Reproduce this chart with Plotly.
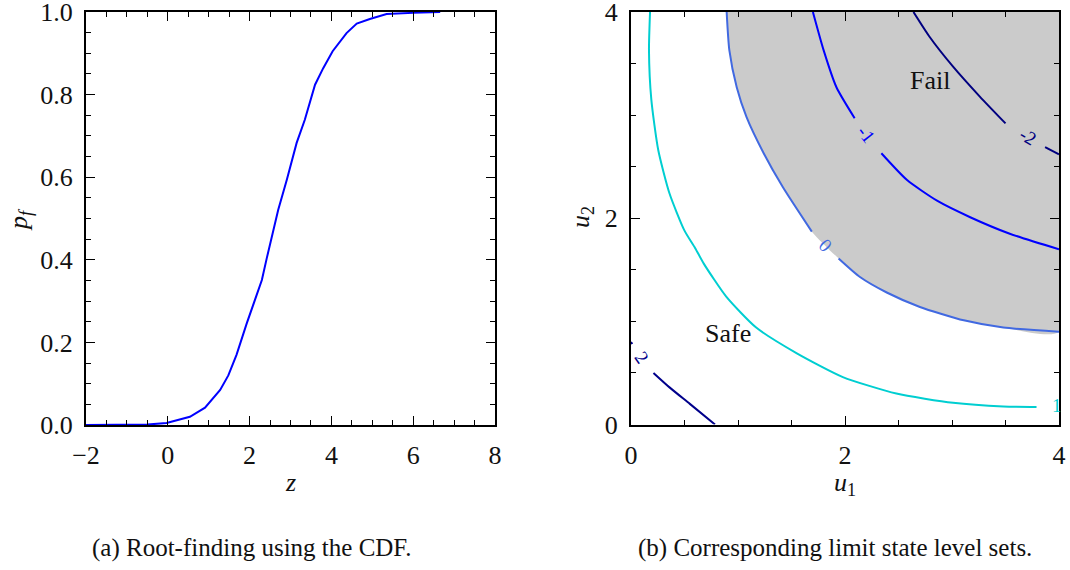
import plotly.graph_objects as go

# ---- Left panel: CDF of the limit state ----
cdf_z = [-2.0, -1.0, -0.5, -0.03, 0.54, 0.91, 1.28, 1.48, 1.68, 1.93, 2.13, 2.30,
         2.42, 2.70, 2.91, 3.15, 3.35, 3.60, 3.80, 4.03, 4.37, 4.62, 4.94, 5.35,
         6.0, 6.66]
cdf_p = [0.0, 0.0, 0.001, 0.005, 0.02, 0.042, 0.085, 0.12, 0.17, 0.246, 0.303, 0.351,
         0.404, 0.521, 0.594, 0.683, 0.739, 0.824, 0.864, 0.905, 0.949, 0.972, 0.983,
         0.995, 0.998, 1.0]

# ---- Right panel: level sets (None = gap for inline label) ----
g2_u1 = [0.0, 0.012, None, 0.21, 0.36, 0.55, 0.785]
g2_u2 = [0.80, 0.78, None, 0.50, 0.36, 0.20, 0.0]

g1_u1 = [0.178, 0.168, 0.19, 0.255, 0.36, 0.50, 0.60, 0.68, 0.89, 1.17, 1.55, 1.98,
         2.48, 3.01, 3.48, 3.79]
g1_u2 = [4.0, 3.63, 3.15, 2.66, 2.24, 1.88, 1.71, 1.56, 1.24, 0.94, 0.69, 0.46,
         0.30, 0.21, 0.175, 0.17]

g0_u1 = [0.894, 0.919, 0.988, 1.08, 1.24, 1.42, 1.69, None,
         1.94, 2.14, 2.39, 2.70, 3.11, 3.48, 4.0]
g0_u2 = [4.0, 3.63, 3.27, 2.98, 2.63, 2.30, 1.87, None,
         1.61, 1.43, 1.28, 1.14, 1.01, 0.94, 0.90]

gm1_u1 = [1.70, 1.80, 1.92, 2.09, None, 2.34, 2.58, 2.86, 3.17, 3.54, 4.0]
gm1_u2 = [4.0, 3.63, 3.27, 2.97, None, 2.63, 2.37, 2.17, 2.01, 1.85, 1.70]

gm2_u1 = [2.64, 2.79, 3.01, 3.26, 3.50, None, 3.87, 4.0]
gm2_u2 = [4.0, 3.76, 3.47, 3.18, 2.92, None, 2.69, 2.62]

level_labels = ["2", "1", "0", "-1", "-2"]
label_u1 = [0.10, 3.98, 1.82, 2.20, 3.71]
label_u2 = [0.65, 0.18, 1.74, 2.81, 2.79]
label_angle = [55, 0, 45, 52, 31]

region_names = ["Fail", "Safe"]
region_u1 = [2.79, 0.91]
region_u2 = [3.34, 0.88]

captions = ["(a) Root-finding using the CDF.", "(b) Corresponding limit state level sets."]

C2 = "#00008b"
C1 = "#00ced1"
C0 = "#4169e1"
CM1 = "#0000ff"
CM2 = "#000080"
level_colors = [C2, C1, C0, CM1, CM2]

FONT = "Liberation Serif"
TXT = "#111111"
W, H = 1070, 570

fig = go.Figure()

fig.add_trace(go.Scatter(x=cdf_z, y=cdf_p, mode="lines",
                         line=dict(color="#0000ff", width=2),
                         xaxis="x", yaxis="y", showlegend=False))

# Fail region fill: region beyond the g=0 level set, up to the top-right corner
fill_u1 = [v for v in g0_u1 if v is not None] + [4.0]
fill_u2 = [v for v in g0_u2 if v is not None] + [4.0]
fig.add_trace(go.Scatter(x=fill_u1, y=fill_u2, mode="lines", fill="toself",
                         fillcolor="#cbcbcb", line=dict(width=0, shape="spline", smoothing=0.6),
                         xaxis="x2", yaxis="y2", showlegend=False))

for xs, ys, col in [(g2_u1, g2_u2, C2), (g1_u1, g1_u2, C1), (g0_u1, g0_u2, C0),
                    (gm1_u1, gm1_u2, CM1), (gm2_u1, gm2_u2, CM2)]:
    fig.add_trace(go.Scatter(x=xs, y=ys, mode="lines", connectgaps=False,
                             line=dict(color=col, width=2, shape="spline", smoothing=0.6),
                             xaxis="x2", yaxis="y2", showlegend=False))

ann = []
for t, x, y, a, c in zip(level_labels, label_u1, label_u2, label_angle, level_colors):
    ann.append(dict(x=x, y=y, xref="x2", yref="y2", text=t, showarrow=False,
                    xanchor="center", yanchor="middle",
                    textangle=a, font=dict(family=FONT, size=19, color=c)))
for t, x, y in zip(region_names, region_u1, region_u2):
    ann.append(dict(x=x, y=y, xref="x2", yref="y2", text=t, showarrow=False,
                    xanchor="center", yanchor="middle",
                    font=dict(family=FONT, size=26, color=TXT)))

def paper_text(px, py, text, angle=0, size=26):
    return dict(x=px / W, y=1 - py / H, xref="paper", yref="paper", text=text,
                showarrow=False, xanchor="center", yanchor="middle", textangle=angle,
                font=dict(family=FONT, size=size, color=TXT))

# axis titles
ann.append(paper_text(290, 482, "<i>z</i>"))
ann.append(paper_text(845, 484, "<i>u</i><sub>1</sub>"))
ann.append(paper_text(20, 220, "<i>p</i><sub><i>f</i></sub>", angle=-90))
ann.append(paper_text(582, 217, "<i>u</i><sub>2</sub>", angle=-90))
# captions
ann.append(paper_text(252, 548, captions[0], size=25))
ann.append(paper_text(835, 548, captions[1], size=25))

axis_common = dict(showline=True, linecolor="black", linewidth=2, mirror="allticks",
                   ticks="inside", ticklen=9, tickwidth=1, tickcolor="black",
                   showgrid=False, zeroline=False, ticklabelstandoff=6,
                   automargin=False, ticklabeloverflow="allow",
                   tickfont=dict(family=FONT, size=26, color=TXT))

def minor(dt):
    return dict(ticks="inside", ticklen=5, dtick=dt, tickcolor="black", showgrid=False)

fig.update_layout(
    width=W, height=H,
    margin=dict(l=0, r=0, t=0, b=0, autoexpand=False),
    paper_bgcolor="white", plot_bgcolor="white",
    showlegend=False,
    annotations=ann,
    xaxis=dict(domain=[86 / W, 495 / W], range=[-2, 8], tickvals=[-2, 0, 2, 4, 6, 8],
               anchor="y", minor=minor(0.5), **axis_common),
    yaxis=dict(domain=[1 - 425 / H, 1 - 12 / H], range=[0, 1],
               tickvals=[0, 0.2, 0.4, 0.6, 0.8, 1.0],
               ticktext=["0.0", "0.2", "0.4", "0.6", "0.8", "1.0"],
               anchor="x", minor=minor(0.05), **axis_common),
    xaxis2=dict(domain=[631 / W, 1059 / W], range=[0, 4], tickvals=[0, 2, 4],
                anchor="y2", minor=minor(0.5), **axis_common),
    yaxis2=dict(domain=[1 - 424.5 / H, 1 - 12 / H], range=[0, 4], tickvals=[0, 2, 4],
                anchor="x2", minor=minor(0.5), **axis_common),
)

fig.write_html("out.html")
